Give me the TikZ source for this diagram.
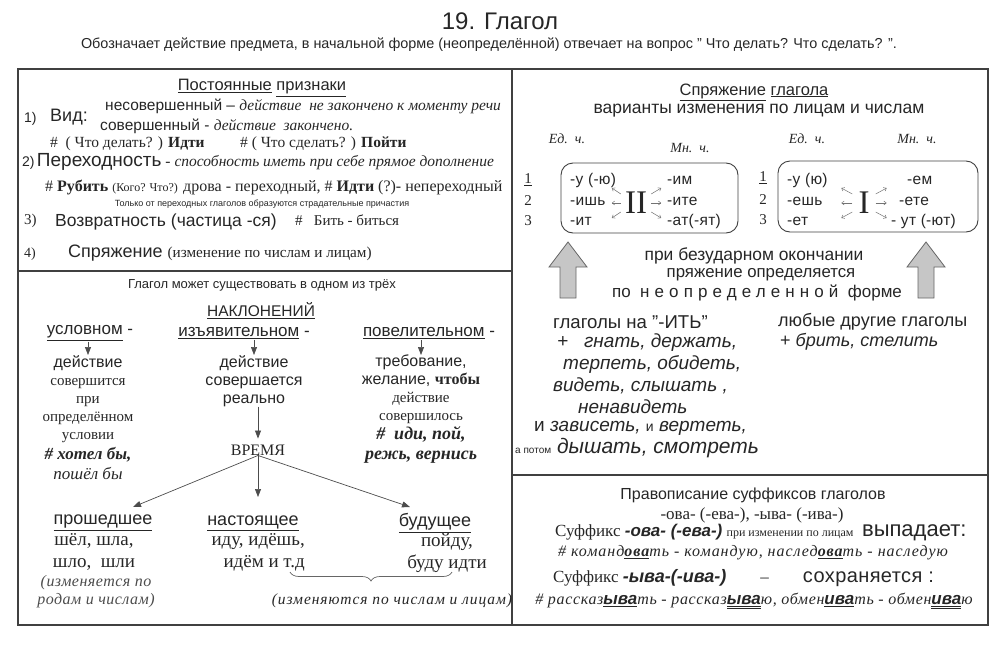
\documentclass[tikz,border=0pt]{standalone}
\usepackage{fontspec}
\setmainfont{Liberation Serif}
\setsansfont{Liberation Sans}
\usetikzlibrary{arrows.meta,decorations.pathreplacing}
\newcommand{\fsz}[1]{\fontsize{#1}{18}\selectfont}
\newcommand{\lsp}[1]{\addfontfeature{LetterSpace=#1}}

\begin{document}
\begin{tikzpicture}
[
    x=1pt, y=-1pt,
    every node/.style={inner sep=0pt, text=black!85},
    sans/.style={font=\sffamily\fsz{#1}},
    serif/.style={font=\rmfamily\fsz{#1}},
    lft/.style={anchor=west},
    col/.style={align=center, anchor=north},
    frame/.style={line width=1.6pt, black!75},
    arr/.style={-{Triangle[length=8pt,width=6pt]}, black!70, line width=0.7pt},
    sarr/.style={-{Straight Barb[length=2.5pt,width=4pt]}, black!55, line width=0.5pt},
    ebox/.style={rounded corners=12pt, line width=0.9pt, black!75},
    bigarr/.style={fill=gray!45, draw=black!60, line width=0.8pt},
    brace/.style={decorate, decoration={brace, mirror, amplitude=9pt}, black!60, line width=0.7pt},
]
\useasboundingbox (0,0) rectangle (1002,648);

\node[sans=24] (title) at (500,21) {19. Глагол};
\node[sans=14.4] (def) at (489,45) {Обозначает действие предмета, в начальной форме (неопределённой) отвечает на вопрос " Что делать? Что сделать? ".};

\draw[frame] (18,69) rectangle (988,625);
\draw[frame] (512,69) -- (512,625);
\draw[frame] (18,271) -- (512,271);
\draw[frame] (512,475) -- (988,475);

\node[sans=16.5] (perm) at (262,88) {\underline{Постоянные} \underline{признаки}};
\node[sans=14, lft] (n1) at (24,119) {1)};
\node[sans=18, lft] (vid) at (50,117) {Вид:};
\node[sans=15.5, lft] (nesov) at (105,106) {несовершенный – {\rmfamily\itshape действие\ \ не закончено к моменту речи}};
\node[sans=15.5, lft] (sov) at (100,126) {совершенный - {\rmfamily\itshape действие\ \ закончено.}};
\node[serif=15.5, lft] (ex1) at (50,144) {\#\ \ ( Что делать? ) \textbf{Идти}};
\node[serif=15.5, lft] (ex2) at (240,144) {\# ( Что сделать? ) \textbf{Пойти}};
\node[sans=14, lft] (pereh) at (22,162) {2)\,{\fsz{19}Переходность} {\rmfamily\itshape\fsz{15.5}- способность иметь при себе прямое дополнение}};
\node[serif=16, lft] (ex3) at (45,187) {\# \textbf{Рубить} {\fsz{12}(Кого? Что?)} дрова - переходный, \# \textbf{Идти} (?)- непереходный};
\node[sans=9] (only) at (262,204) {Только от переходных глаголов образуются страдательные причастия};
\node[serif=15, lft] (n3) at (24,221) {3)};
\node[sans=17.5, lft] (vozv) at (55,222) {Возвратность (частица -ся)};
\node[serif=15, lft] (ex4) at (295,220) {\#\ \ \ Бить - биться};
\node[serif=14, lft] (n4) at (24,254) {4)};
\node[sans=18, lft] (spr) at (68,253) {Спряжение {\rmfamily\fsz{15.2}(изменение по числам и лицам)}};

\node[sans=13] (may) at (262,285) {Глагол может существовать в одном из трёх};
\node[sans=15.5] (nakl) at (261,311) {\underline{НАКЛОНЕНИЙ}};
\node[sans=17] (usl) at (90,333) {\underline{условном} -};
\node[sans=17] (izj) at (244,333) {\underline{изъявительном} -};
\node[sans=17] (pov) at (429,333) {\underline{повелительном} -};

\node[serif=15, col] (col1) at (88,355) {{\sffamily\fsz{16}действие}\\совершится\\при\\определённом\\условии\\[2pt]{\bfseries\itshape\fsz{17}\# хотел бы,}\\[2pt]{\itshape\fsz{17}пошёл бы}};
\node[sans=16, col] (col2) at (254,355) {действие\\совершается\\реально};
\node[sans=16, col] (col3) at (421,355) {требование,\\желание, {\rmfamily\bfseries чтобы}\\{\rmfamily\fsz{15}действие}\\{\rmfamily\fsz{15}совершилось}\\[1pt]{\rmfamily\bfseries\itshape\fsz{18}\#\ \ иди, пой,}\\[2pt]{\rmfamily\bfseries\itshape\fsz{18}режь, вернись}};
\draw[arr] (col1.north |- usl.south) ++(0,1) -- (col1.north);
\draw[arr] (col2.north |- izj.south) ++(0,1) -- (col2.north);
\draw[arr] (col3.north |- pov.south) ++(0,1) -- (col3.north);

\node[serif=16] (vremya) at (258,450) {ВРЕМЯ};
\draw[arr, shorten >=6pt] (col2.south -| vremya.north) -- (vremya.north);
\coordinate (tpast) at (133,507);
\coordinate (tpres) at (258,497);
\coordinate (tfut) at (410,507);
\draw[arr] (vremya.south) -- (tpast);
\draw[arr] (vremya.south) -- (tpres);
\draw[arr] (vremya.south) -- (tfut);

\node[sans=18] (past) at (103,523) {\underline{прошедшее}};
\node[sans=18] (pres) at (253,523) {\underline{настоящее}};
\node[sans=18] (fut) at (435,523) {\underline{будущее}};
\node[serif=19, col] (pastf) at (94,533) {шёл, шла,\\[4pt]шло,\ \ шли};
\node[serif=19, align=right, anchor=north east] (presf) at (305,533) {иду, идёшь,\\[4pt]идём и т.д};
\node[serif=19, col] (futf) at (447,533) {пойду,\\[4pt]буду идти};
\node[serif=16, col, text=black!70] (pastn) at (96,575) {\itshape\lsp{3}(изменяется по\\\itshape\lsp{3}родам и числам)};
\draw[brace] (290,572) -- (452,572);
\node[serif=15.5] (chl) at (392,601) {\itshape\lsp{6}(изменяются по числам и лицам)};

\node[sans=16.5] (sprg) at (754,92) {\underline{Спряжение} \underline{глагола}};
\node[sans=17.5] (var) at (759,111) {варианты изменения по лицам и числам};
\node[serif=14] (ed1) at (567,139) {\itshape Ед.\ \ ч.};
\node[serif=14] (mn1) at (690,148) {\itshape Мн.\ \ ч.};
\node[serif=14] (ed2) at (807,139) {\itshape Ед.\ \ ч.};
\node[serif=14] (mn2) at (917,139) {\itshape Мн.\ \ ч.};

\draw[ebox] (561,163) rectangle (738,233);
\draw[ebox] (778,161) rectangle (978,232);
\node[serif=15] (a1) at (528,180) {\underline{1}};
\node[serif=15] (a2) at (528,201) {2};
\node[serif=15] (a3) at (528,221) {3};
\node[sans=15.5, lft] (e11) at (570,180) {\lsp{2}-у (-ю)};
\node[sans=15.5, lft] (e12) at (570,201) {\lsp{2}-ишь};
\node[sans=15.5, lft] (e13) at (570,221) {\lsp{2}-ит};
\node[sans=15.5, lft] (e14) at (667,180) {\lsp{2}-им};
\node[sans=15.5, lft] (e15) at (667,201) {\lsp{2}-ите};
\node[sans=15.5, lft] (e16) at (667,221) {\lsp{2}-ат(-ят)};
\node[serif=33] (two) at (636,203) {II};
\node[serif=15] (b1) at (763,178) {\underline{1}};
\node[serif=15] (b2) at (763,200) {2};
\node[serif=15] (b3) at (763,220) {3};
\node[sans=15.5, lft] (f11) at (787,180) {\lsp{2}-у (ю)};
\node[sans=15.5, lft] (f12) at (787,201) {\lsp{2}-ешь};
\node[sans=15.5, lft] (f13) at (787,221) {\lsp{2}-ет};
\node[sans=15.5, lft] (f14) at (907,180) {\lsp{2}-ем};
\node[sans=15.5, lft] (f15) at (899,201) {\lsp{2}-ете};
\node[sans=15.5, lft] (f16) at (891,221) {\lsp{2}- ут (-ют)};
\node[serif=33] (one) at (864,203) {I};
\foreach \dy in {-1,0,1} {
  \draw[sarr] ([shift={(-4,9*\dy)}]two.west) -- ++(-9,6*\dy);
  \draw[sarr] ([shift={(4,9*\dy)}]two.east) -- ++(10,6*\dy);
  \draw[sarr] ([shift={(-6,9*\dy)}]one.west) -- ++(-11,6*\dy);
  \draw[sarr] ([shift={(6,9*\dy)}]one.east) -- ++(11,6*\dy);
}

\foreach \cx in {568,926}
  \draw[bigarr] (\cx-8,298) -- (\cx-8,267) -- (\cx-19,267) -- (\cx,242) -- (\cx+19,267) -- (\cx+8,267) -- (\cx+8,298) -- cycle;
\node[sans=17.4] (bez) at (754,256) {при безударном окончании};
\node[sans=16.8] (opr) at (761,275) {пряжение определяется};
\node[sans=17] (neopr) at (757,293) {по\ \ {\lsp{30}неопределенной}\ \ форме};

\node[sans=18.6, lft] (it) at (553,322) {глаголы на "-ИТЬ"};
\node[sans=19, lft] (g1) at (557,343) {\itshape +\ \ \ гнать, держать,};
\node[sans=19, lft] (g2) at (563,364) {\itshape терпеть, обидеть,};
\node[sans=19, lft] (g3) at (553,386) {\itshape видеть, слышать ,};
\node[sans=19, lft] (g4) at (578,407) {\itshape ненавидеть};
\node[sans=19, lft] (g5) at (534,428) {и \textit{зависеть,} {\fsz{14}и} \textit{вертеть,}};
\node[sans=21, lft] (g6) at (515,448) {{\fsz{10}а потом} \textit{дышать, смотреть}};
\node[sans=18, lft] (oth) at (778,322) {любые другие глаголы};
\node[sans=18, lft] (oth2) at (780,342) {+ \textit{брить, стелить}};

\node[sans=16] (prav) at (753,495) {Правописание суффиксов глаголов};
\node[serif=17] (suff) at (752,515) {-ова- (-ева-), -ыва- (-ива-)};
\node[serif=17, lft] (vyp) at (555,533) {Суффикс {\sffamily\bfseries\itshape\fsz{17}-ова- (-ева-)} {\fsz{12}при изменении по лицам}\ \ {\sffamily\fsz{22}выпадает:}};
\node[serif=16] (ex5) at (753,553) {\itshape\lsp{6}\# команд\underline{\textbf{ова}}ть - командую, наслед\underline{\textbf{ова}}ть - наследую};
\node[serif=17, lft] (sohr) at (553,578) {Суффикс {\sffamily\bfseries\itshape\fsz{18}-ыва-(-ива-)}\qquad –\qquad {\sffamily\fsz{20}\lsp{2}сохраняется :}};
\node[serif=16] (ex6) at (754,601) {\itshape\lsp{4}\# рассказ\underline{\sffamily\bfseries\fsz{17}ыва}ть - рассказ\underline{\underline{\sffamily\bfseries\fsz{17}ыва}}ю, обмен\underline{\sffamily\bfseries\fsz{17}ива}ть - обмен\underline{\underline{\sffamily\bfseries\fsz{17}ива}}ю};
\end{tikzpicture}
\end{document}
